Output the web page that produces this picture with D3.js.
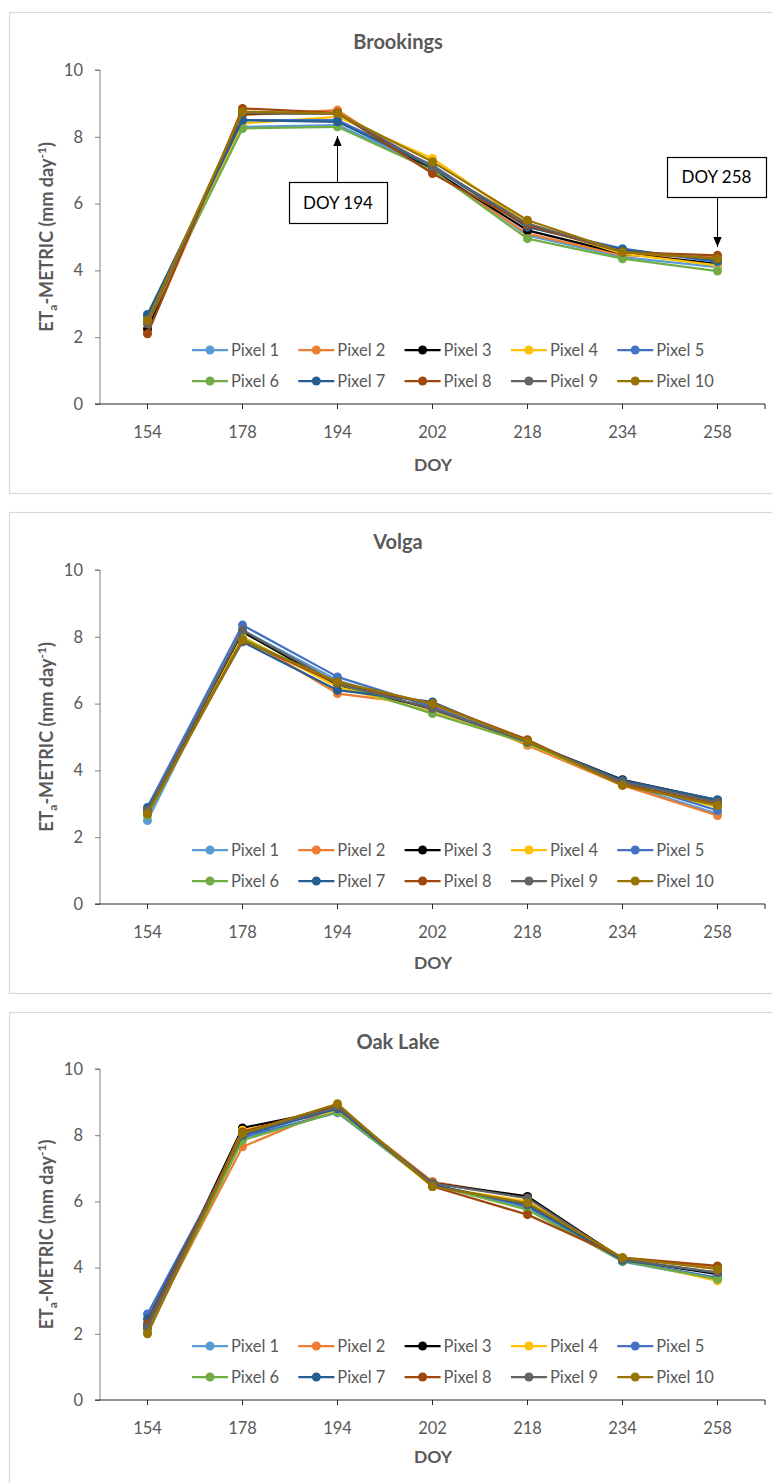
<!DOCTYPE html>
<html>
<head>
<meta charset="utf-8">
<script src="https://cdn.jsdelivr.net/npm/d3@7"></script>
<style>
  html, body { margin: 0; padding: 0; background: #fff; }
  svg { display: block; }
  text { font-family: Lato, "Open Sans", "DejaVu Sans", sans-serif; }
</style>
</head>
<body>
<svg id="chart" width="772" height="1483"></svg>
<script>
// ---------- DATA ----------
const doy = ["154", "178", "194", "202", "218", "234", "258"];
const pixelNames = ["Pixel 1","Pixel 2","Pixel 3","Pixel 4","Pixel 5","Pixel 6","Pixel 7","Pixel 8","Pixel 9","Pixel 10"];
const pixelColors = ["#5B9BD5","#ED7D31","#000000","#FFC000","#4472C4","#70AD47","#255E91","#9E480E","#636363","#997300"];
const yTicks = [0, 2, 4, 6, 8, 10];

const brookings = [
  [2.55, 8.30, 8.35, 7.05, 5.05, 4.40, 4.10],
  [2.15, 8.65, 8.80, 6.95, 5.10, 4.45, 4.40],
  [2.25, 8.70, 8.70, 7.00, 5.20, 4.50, 4.20],
  [2.40, 8.40, 8.60, 7.35, 5.40, 4.50, 4.15],
  [2.60, 8.50, 8.50, 7.15, 5.30, 4.65, 4.25],
  [2.50, 8.25, 8.30, 7.00, 4.95, 4.35, 3.98],
  [2.68, 8.50, 8.45, 7.10, 5.30, 4.62, 4.30],
  [2.10, 8.85, 8.72, 6.90, 5.35, 4.55, 4.45],
  [2.40, 8.72, 8.70, 7.10, 5.40, 4.55, 4.35],
  [2.50, 8.75, 8.70, 7.25, 5.50, 4.55, 4.35]
];
const volga = [
  [2.50, 8.20, 6.70, 5.80, 4.80, 3.60, 2.70],
  [2.70, 8.00, 6.30, 5.95, 4.75, 3.55, 2.65],
  [2.75, 8.15, 6.55, 5.85, 4.85, 3.72, 3.10],
  [2.70, 8.00, 6.50, 5.75, 4.80, 3.60, 2.90],
  [2.90, 8.35, 6.80, 5.90, 4.85, 3.68, 2.80],
  [2.65, 7.95, 6.60, 5.70, 4.82, 3.58, 2.95],
  [2.85, 7.85, 6.40, 6.05, 4.85, 3.70, 3.12],
  [2.75, 7.90, 6.60, 6.00, 4.92, 3.58, 3.00],
  [2.80, 8.20, 6.60, 5.85, 4.85, 3.65, 3.05],
  [2.70, 7.90, 6.65, 6.00, 4.88, 3.55, 2.95]
];
const oakLake = [
  [2.30, 7.90, 8.70, 6.50, 5.80, 4.18, 3.65],
  [2.15, 7.65, 8.85, 6.60, 6.10, 4.28, 4.00],
  [2.20, 8.22, 8.80, 6.55, 6.15, 4.25, 3.80],
  [2.05, 8.15, 8.75, 6.45, 6.00, 4.25, 3.60],
  [2.60, 7.95, 8.68, 6.50, 5.85, 4.20, 3.70],
  [2.10, 7.85, 8.70, 6.50, 5.75, 4.20, 3.65],
  [2.45, 8.00, 8.80, 6.50, 5.90, 4.22, 3.85],
  [2.30, 8.10, 8.90, 6.45, 5.60, 4.30, 4.05],
  [2.20, 8.05, 8.85, 6.55, 6.10, 4.25, 3.85],
  [2.00, 8.05, 8.95, 6.45, 5.95, 4.30, 3.95]
];
const annotationLabels = ["DOY 194", "DOY 258"];
const annotationDoy = ["194", "258"];

// ---------- LAYOUT ----------
const svg = d3.select("#chart");
const defs = svg.append("defs");
defs.append("marker").attr("id", "arrow").attr("viewBox", "0 0 10 12")
  .attr("refX", 12).attr("refY", 5).attr("markerWidth", 12).attr("markerHeight", 10)
  .attr("markerUnits", "userSpaceOnUse").attr("orient", "auto")
  .append("path").attr("d", "M0,0L12,5L0,10Z").attr("fill", "#000");

const panels = [
  { title: "Brookings", data: brookings, top: 12, bottom: 493, plotTop: 70, plotBottom: 404, labY: 438, doyY: 471, notes: true },
  { title: "Volga",     data: volga,     top: 512, bottom: 993, plotTop: 570, plotBottom: 904, labY: 938, doyY: 969, notes: false },
  { title: "Oak Lake",  data: oakLake,   top: 1012, bottom: 1500, plotTop: 1069, plotBottom: 1400, labY: 1434, doyY: 1463, notes: false }
];
const plotLeft = 100, plotRight = 765;
const textGray = "#595959";

panels.forEach(p => {
  const g = svg.append("g");
  g.append("rect").attr("x", 9.5).attr("y", p.top + 0.5)
    .attr("width", 790).attr("height", p.bottom - p.top)
    .attr("fill", "#fff").attr("stroke", "#d9d9d9").attr("stroke-width", 1.2);

  g.append("text").attr("x", 398).attr("y", p.top + 37)
    .attr("text-anchor", "middle").attr("font-size", 20).attr("font-weight", "bold")
    .attr("fill", textGray).text(p.title);

  const x = d3.scaleBand().domain(doy).range([plotLeft, plotRight]);
  const y = d3.scaleLinear().domain([0, 10]).range([p.plotBottom, p.plotTop]);
  const cx = d => x(d) + x.bandwidth() / 2;

  // y axis
  const yAxis = g.append("g").attr("transform", `translate(${plotLeft},0)`)
    .call(d3.axisLeft(y).tickValues(yTicks).tickSize(5).tickPadding(12));
  yAxis.select(".domain").attr("stroke", "#7f7f7f").attr("d", `M-5,${p.plotTop}H0V${p.plotBottom}`);
  yAxis.selectAll(".tick line").attr("stroke", "#7f7f7f");
  yAxis.selectAll("text").attr("font-size", 16.5).attr("fill", textGray)
    .attr("font-family", "Lato, 'Open Sans', sans-serif");

  // x axis
  const xAxis = g.append("g").attr("transform", `translate(0,${p.plotBottom})`)
    .call(d3.axisBottom(x).tickSize(5).tickPadding(0).tickFormat(() => ""));
  xAxis.select(".domain").attr("stroke", "#262626").attr("d", `M${plotLeft - 5},0H${plotRight}V5`);
  xAxis.selectAll(".tick line").attr("stroke", "#262626");
  g.selectAll(".xlab").data(doy).enter().append("text")
    .attr("x", d => cx(d)).attr("y", p.labY).attr("text-anchor", "middle")
    .attr("font-size", 16.5).attr("fill", textGray).text(d => d);

  g.append("text").attr("x", 433).attr("y", p.doyY).attr("text-anchor", "middle")
    .attr("font-size", 17.5).attr("font-weight", "bold").attr("fill", textGray).text("DOY");

  // y title
  const yc = (p.plotTop + p.plotBottom) / 2;
  const yt = g.append("text").attr("transform", `translate(53,${yc}) rotate(-90)`)
    .attr("text-anchor", "middle").attr("font-size", 18).attr("font-weight", "bold").attr("fill", textGray);
  yt.append("tspan").text("ET");
  yt.append("tspan").attr("font-size", 12).attr("dy", 4).text("a");
  yt.append("tspan").attr("dy", -4).text("-METRIC (mm day");
  yt.append("tspan").attr("font-size", 12).attr("dy", -7).text("-1");
  yt.append("tspan").attr("dy", 7).text(")");

  // lines
  const line = d3.line().x((v, i) => cx(doy[i])).y(v => y(v));
  p.data.forEach((vals, k) => {
    g.append("path").attr("d", line(vals)).attr("fill", "none")
      .attr("stroke", pixelColors[k]).attr("stroke-width", 2.25).attr("stroke-linejoin", "round");
    g.selectAll(null).data(vals).enter().append("circle")
      .attr("cx", (v, i) => cx(doy[i])).attr("cy", v => y(v)).attr("r", 4.5)
      .attr("fill", pixelColors[k]);
  });

  // legend
  const rowY = [p.plotBottom - 54, p.plotBottom - 23];
  pixelNames.forEach((name, k) => {
    const col = k % 5, row = Math.floor(k / 5);
    const lx = 192 + col * 106.3, ly = rowY[row];
    const lg = g.append("g");
    lg.append("line").attr("x1", lx).attr("x2", lx + 36).attr("y1", ly).attr("y2", ly)
      .attr("stroke", pixelColors[k]).attr("stroke-width", 2.25);
    lg.append("circle").attr("cx", lx + 18).attr("cy", ly).attr("r", 4.5).attr("fill", pixelColors[k]);
    lg.append("text").attr("x", lx + 39).attr("y", ly + 6).attr("font-size", 16.5)
      .attr("fill", textGray).text(name);
  });

  // annotations
  if (p.notes) {
    const boxes = [
      { x0: 289, y0: 182, w: 98, h: 41, tipY: 136, fromY: 182 },
      { x0: 667, y0: 157, w: 99, h: 40, tipY: 247, fromY: 197 }
    ];
    boxes.forEach((b, i) => {
      const ax = cx(annotationDoy[i]);
      g.append("line").attr("x1", ax).attr("x2", ax).attr("y1", b.fromY).attr("y2", b.tipY)
        .attr("stroke", "#000").attr("stroke-width", 1).attr("marker-end", "url(#arrow)");
      g.append("rect").attr("x", b.x0 + 0.5).attr("y", b.y0 + 0.5).attr("width", b.w).attr("height", b.h)
        .attr("fill", "#fff").attr("stroke", "#000").attr("stroke-width", 1.2);
      g.append("text").attr("x", b.x0 + b.w / 2).attr("y", b.y0 + b.h / 2 + 6)
        .attr("text-anchor", "middle").attr("font-size", 17).attr("fill", "#000").text(annotationLabels[i]);
    });
  }
});
</script>
</body>
</html>
